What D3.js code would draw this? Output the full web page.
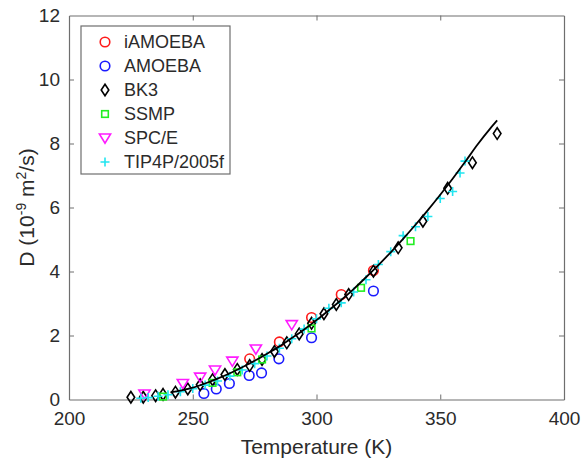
<!DOCTYPE html>
<html><head><meta charset="utf-8">
<script src="https://cdn.jsdelivr.net/npm/d3@7"></script>
<style>
html,body{margin:0;padding:0;background:#fff;}
svg{display:block;font-family:"Liberation Sans",Arial,Helvetica,sans-serif;}
</style></head>
<body>
<svg id="chart" width="584" height="462"></svg>
<script>
// ---- data ----
const xTicks = [200, 250, 300, 350, 400];
const yTicks = [0, 2, 4, 6, 8, 10, 12];
const seriesNames = ["iAMOEBA", "AMOEBA", "BK3", "SSMP", "SPC/E", "TIP4P/2005f"];

const iamoebaT = [273, 285, 298, 310, 323];
const iamoebaD = [1.27, 1.80, 2.56, 3.28, 4.03];

const amoebaT = [254.5, 259.5, 264.8, 272.8, 277.8, 284.8, 298, 323];
const amoebaD = [0.19, 0.33, 0.50, 0.75, 0.83, 1.27, 1.93, 3.39];

const bk3T = [225, 230, 235, 238, 243, 248, 253, 258, 263, 268, 273, 278, 283, 288, 293, 298, 303, 308, 313, 323, 333, 343, 353, 363, 373];
const bk3D = [0.07, 0.07, 0.12, 0.16, 0.23, 0.33, 0.46, 0.62, 0.78, 0.94, 1.06, 1.25, 1.50, 1.77, 2.05, 2.38, 2.68, 2.97, 3.28, 4.01, 4.74, 5.57, 6.60, 7.40, 8.31];

const ssmpT = [238, 258, 268, 278, 298, 318, 338];
const ssmpD = [0.09, 0.52, 0.85, 1.25, 2.22, 3.49, 4.95];

const spceT = [230.5, 246, 253, 259, 266, 275.5, 290];
const spceD = [0.17, 0.50, 0.70, 0.92, 1.20, 1.58, 2.34];

const tipT = [229, 232, 236, 240, 245, 250, 255, 260, 265, 270, 275, 280, 285, 290, 295, 300, 305, 310, 315, 320, 325, 330, 335, 340, 345, 350, 355, 358, 360];
const tipD = [0.04, 0.06, 0.10, 0.15, 0.24, 0.34, 0.45, 0.58, 0.73, 0.92, 1.12, 1.36, 1.60, 1.90, 2.20, 2.52, 2.85, 3.02, 3.36, 3.74, 4.22, 4.62, 5.12, 5.40, 5.72, 6.28, 6.50, 7.08, 7.45];

const fitT = [241, 245, 250, 255, 260, 265, 270, 275, 280, 285, 290, 295, 300, 305, 310, 315, 320, 325, 330, 335, 340, 345, 350, 355, 360, 365, 370, 373];
const fitD = [0.22, 0.28, 0.37, 0.50, 0.65, 0.82, 1.01, 1.21, 1.43, 1.66, 1.92, 2.19, 2.48, 2.79, 3.11, 3.45, 3.82, 4.20, 4.60, 5.02, 5.46, 5.92, 6.40, 6.90, 7.42, 7.96, 8.45, 8.72];

// ---- layout ----
const svg = d3.select("#chart");
const L = 69, R = 564, T = 15.5, B = 399.5;
const x = d3.scaleLinear().domain([200, 400]).range([L, R]);
const y = d3.scaleLinear().domain([0, 12]).range([B, T]);
const axisCol = "#6e6e6e", textCol = "#2b2b2b";

const gx = svg.append("g").attr("transform", `translate(0,${B})`)
  .call(d3.axisBottom(x).tickValues(xTicks).tickSizeInner(-5).tickSizeOuter(0).tickPadding(12));
const gxTop = svg.append("g").attr("transform", `translate(0,${T})`)
  .call(d3.axisTop(x).tickValues(xTicks).tickSizeInner(-5).tickSizeOuter(0).tickFormat(""));
const gy = svg.append("g").attr("transform", `translate(${L},0)`)
  .call(d3.axisLeft(y).tickValues(yTicks).tickSizeInner(-5).tickSizeOuter(0).tickPadding(9));
const gyR = svg.append("g").attr("transform", `translate(${R},0)`)
  .call(d3.axisRight(y).tickValues(yTicks).tickSizeInner(-5).tickSizeOuter(0).tickFormat(""));
[gx, gxTop, gy, gyR].forEach(g => {
  g.select(".domain").attr("stroke", axisCol).attr("stroke-width", 1.2);
  g.selectAll(".tick line").attr("stroke", axisCol).attr("stroke-width", 1);
  g.selectAll(".tick text").attr("fill", textCol).attr("font-size", 19)
    .attr("font-family", "'Liberation Sans',Arial,sans-serif");
});
// hide first/last tick lines overlapping frame corners
[gx, gxTop].forEach(g => g.selectAll(".tick line").filter(d => d === 200 || d === 400).remove());
[gy, gyR].forEach(g => g.selectAll(".tick line").filter(d => d === 0 || d === 12).remove());

// axis labels
svg.append("text").attr("x", (L + R) / 2).attr("y", 454).attr("text-anchor", "middle")
  .attr("fill", textCol).attr("font-size", 21).text("Temperature (K)");
const yl = svg.append("text").attr("transform", `translate(34,${(T + B) / 2}) rotate(-90)`)
  .attr("text-anchor", "middle").attr("fill", textCol).attr("font-size", 21);
yl.append("tspan").text("D (10");
yl.append("tspan").attr("dy", -8).attr("font-size", 14).text("-9");
yl.append("tspan").attr("dy", 8).text(" m");
yl.append("tspan").attr("dy", -8).attr("font-size", 14).text("2");
yl.append("tspan").attr("dy", 8).text("/s)");

// ---- marker shapes ----
function drawMarker(g, kind, color) {
  if (kind === "circle") {
    g.append("circle").attr("r", 4.8).attr("fill", "none").attr("stroke", color).attr("stroke-width", 1.6);
  } else if (kind === "diamond") {
    g.append("path").attr("d", "M0,-5.8L3.8,0L0,5.8L-3.8,0Z").attr("fill", "none").attr("stroke", color).attr("stroke-width", 1.6);
  } else if (kind === "square") {
    g.append("rect").attr("x", -3.3).attr("y", -3.3).attr("width", 6.6).attr("height", 6.6)
      .attr("fill", "none").attr("stroke", color).attr("stroke-width", 1.6);
  } else if (kind === "tri") {
    g.append("path").attr("d", "M-5.6,-4L5.6,-4L0,5.2Z").attr("fill", "none").attr("stroke", color).attr("stroke-width", 1.6);
  } else if (kind === "plus") {
    g.append("path").attr("d", "M-4.5,0H4.5M0,-4.5V4.5").attr("fill", "none").attr("stroke", color).attr("stroke-width", 1.6);
  }
}

const series = [
  { name: seriesNames[0], t: iamoebaT, d: iamoebaD, kind: "circle", color: "#ff1a1a" },
  { name: seriesNames[1], t: amoebaT, d: amoebaD, kind: "circle", color: "#1a1aff" },
  { name: seriesNames[2], t: bk3T, d: bk3D, kind: "diamond", color: "#000000" },
  { name: seriesNames[3], t: ssmpT, d: ssmpD, kind: "square", color: "#22ee22" },
  { name: seriesNames[4], t: spceT, d: spceD, kind: "tri", color: "#ff1aff" },
  { name: seriesNames[5], t: tipT, d: tipD, kind: "plus", color: "#22e5f0" }
];

const plot = svg.append("g");
series.forEach(s => {
  s.t.forEach((tv, i) => {
    const g = plot.append("g").attr("transform", `translate(${x(tv)},${y(s.d[i])})`);
    drawMarker(g, s.kind, s.color);
  });
});

// fit line
const line = d3.line().x((d, i) => x(fitT[i])).y((d, i) => y(fitD[i])).curve(d3.curveMonotoneX);
plot.append("path").datum(fitT).attr("d", line).attr("fill", "none").attr("stroke", "#000").attr("stroke-width", 1.8);

// ---- legend ----
const lg = svg.append("g");
lg.append("rect").attr("x", 81).attr("y", 26).attr("width", 149).attr("height", 148)
  .attr("fill", "#fff").attr("stroke", axisCol).attr("stroke-width", 1.2);
series.forEach((s, i) => {
  const yy = 42 + i * 24;
  const g = lg.append("g").attr("transform", `translate(105,${yy})`);
  drawMarker(g, s.kind, s.color);
  lg.append("text").attr("x", 124).attr("y", yy).attr("dy", "0.36em").attr("fill", textCol)
    .attr("font-size", 18).text(s.name);
});
</script>
</body></html>
